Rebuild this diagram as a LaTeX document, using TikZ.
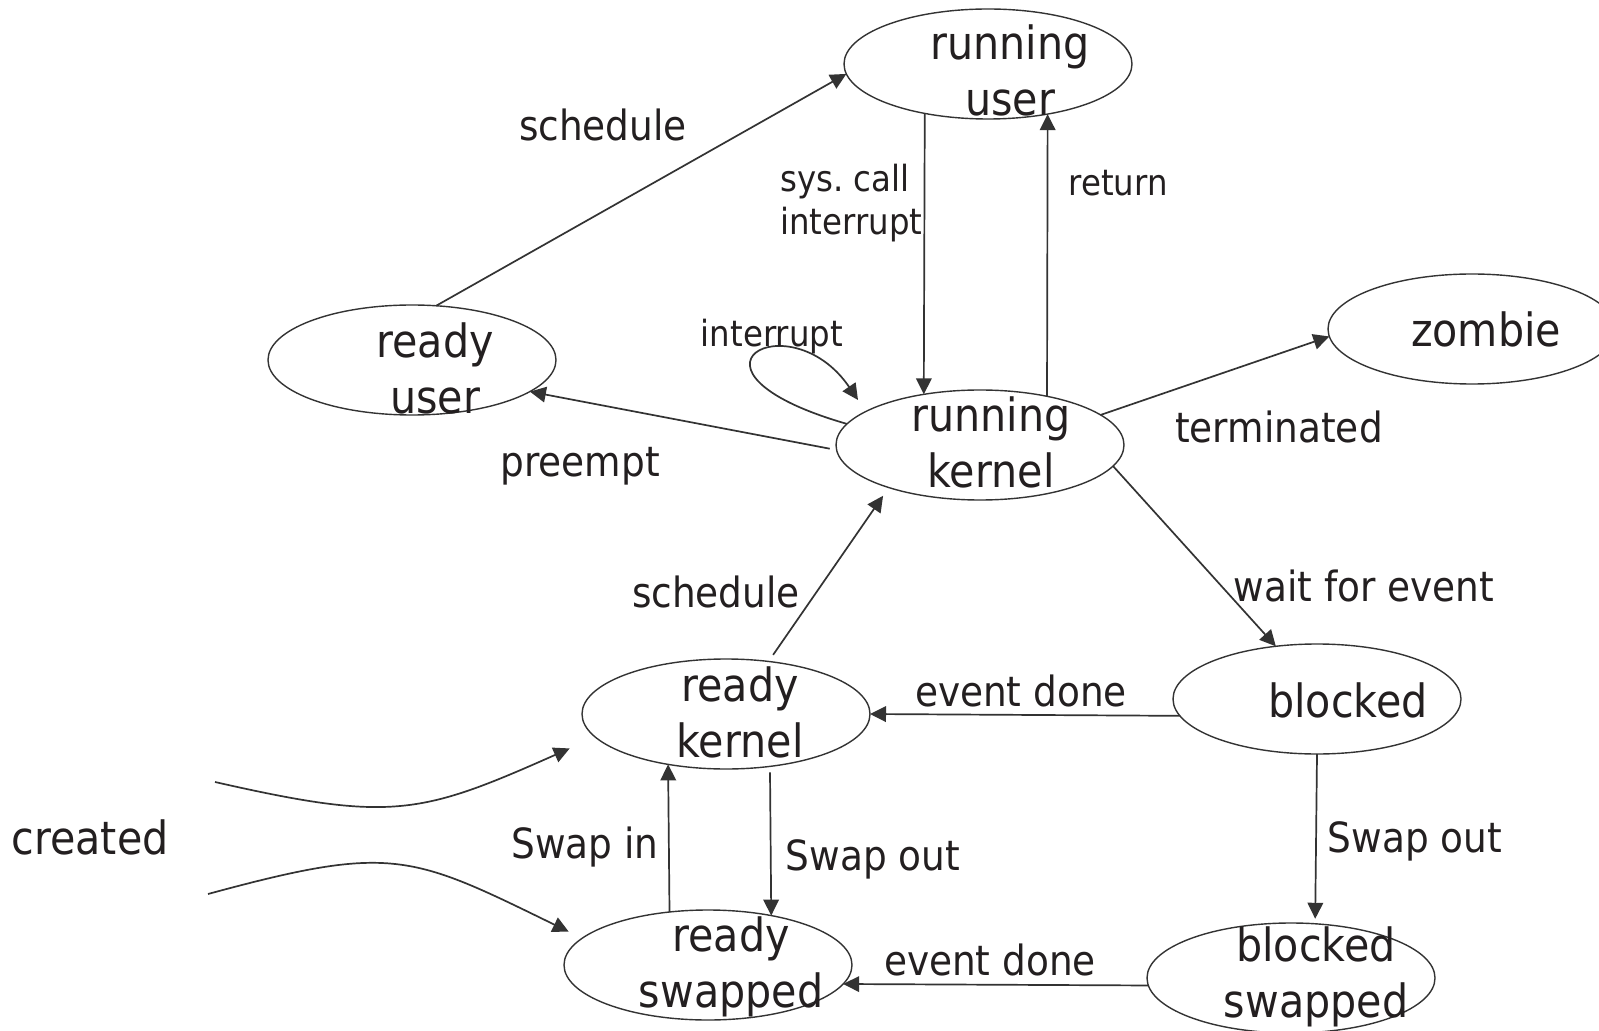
\documentclass[tikz,border=0pt]{standalone}
\usepackage{fontspec}
\setmainfont{DejaVu Sans}[FakeStretch=0.9]
\usetikzlibrary{arrows.meta,shapes.geometric}
\definecolor{ink}{HTML}{231F20}
\definecolor{edgegray}{HTML}{333333}
\tikzset{
  state/.style={draw=edgegray, line width=0.7pt, ellipse, minimum width=144pt,
    minimum height=55pt, inner sep=0pt, outer sep=0pt},
  statetext/.style={text=ink, font=\fontsize{22.9}{28}\selectfont, align=center, inner sep=0pt},
  lbl/.style={text=ink, font=\fontsize{20.8}{24}\selectfont, inner sep=0pt, anchor=base},
  smalllbl/.style={text=ink, font=\fontsize{18}{21.5}\selectfont, inner sep=0pt},
  trans/.style={draw=edgegray, line width=0.85pt, ->},
}
\begin{document}
\begin{tikzpicture}[x=0.5pt, y=-0.5pt, >={Triangle[length=8pt,width=7.8pt]}]
    \useasboundingbox[fill=white] (0,0) rectangle (1599,1031);

    \node[state] (ru) at (988,64) {};
    \node[state] (rdu) at (412,360) {};
    \node[state] (rk) at (980,445) {};
    \node[state] (zb) at (1472,329) {};
    \node[state] (bl) at (1317,699) {};
    \node[state] (bs) at (1291,978) {};
    \node[state] (rdk) at (726,714) {};
    \node[state] (rs) at (708,965) {};

    \node[statetext] (ru-t) at (1010,70) {running\\user};
    \node[statetext] (rdu-t) at (435,368) {ready\\user};
    \node[statetext] (rk-t) at (991,442) {running\\kernel};
    \node[statetext, anchor=base] (zb-t) at (1486,347) {zombie};
    \node[statetext, anchor=base] (bl-t) at (1348,717) {blocked};
    \node[statetext] (bs-t) at (1316,977) {blocked\\swapped};
    \node[statetext] (rdk-t) at (740,712) {ready\\kernel};
    \node[statetext] (rs-t) at (731,967) {ready\\swapped};
    \node[statetext, anchor=base] (created) at (90,854) {created};

    \coordinate (newk) at (215,782);
    \coordinate (news) at (208,894);
    \coordinate (loopend) at (858,400);

    \draw[trans] (rdu.66) -- (ru.184);
    \draw[trans] (ru.218) -- (rk.138);
    \draw[trans] (rk.36) -- (ru.320);
    \draw[trans, shorten <=3.5pt] (rk.182) -- (rdu.345);
    \draw[trans] (rk.171) .. controls (660,370) and (790,300) .. (loopend);
    \draw[trans] (rk.14) -- (zb.183);
    \draw[trans] (rk.351) -- (bl.128);
    \draw[trans, shorten <=4pt, shorten >=5pt] (rdk.51) -- (rk.205);
    \draw[trans] (bl.187) -- (rdk.0);
    \draw[trans, shorten >=2.5pt] (bl.270) -- (bs.66);
    \draw[trans, shorten <=3pt] (rdk.310) -- (rs.38);
    \draw[trans] (rs.126) -- (rdk.221);
    \draw[trans] (bs.183) -- (rs.352);
    \draw[trans, shorten >=14pt] (newk) .. controls (391,822) and (420,815) .. (rdk.190);
    \draw[trans, shorten >=7.5pt] (news) .. controls (392,844) and (410,854) .. (rs.168);

    \node[lbl] (l-sched1) at (603,141) {schedule};
    \node[smalllbl, align=left, anchor=north west] (l-sys) at (780,164) {sys.\ call\\interrupt};
    \node[smalllbl, anchor=base] (l-ret) at (1118,196) {return};
    \node[smalllbl, anchor=base] (l-intr) at (772,347) {interrupt};
    \node[lbl] (l-pre) at (580,477) {preempt};
    \node[lbl] (l-term) at (1279,443) {terminated};
    \node[lbl] (l-wait) at (1364,601) {wait for event};
    \node[lbl] (l-sched2) at (716,607) {schedule};
    \node[lbl] (l-done1) at (1021,706) {event done};
    \node[lbl] (l-in) at (585,858) {Swap in};
    \node[lbl] (l-out1) at (873,870) {Swap out};
    \node[lbl] (l-out2) at (1415,852) {Swap out};
    \node[lbl] (l-done2) at (990,975) {event done};
  \end{tikzpicture}
\end{document}
